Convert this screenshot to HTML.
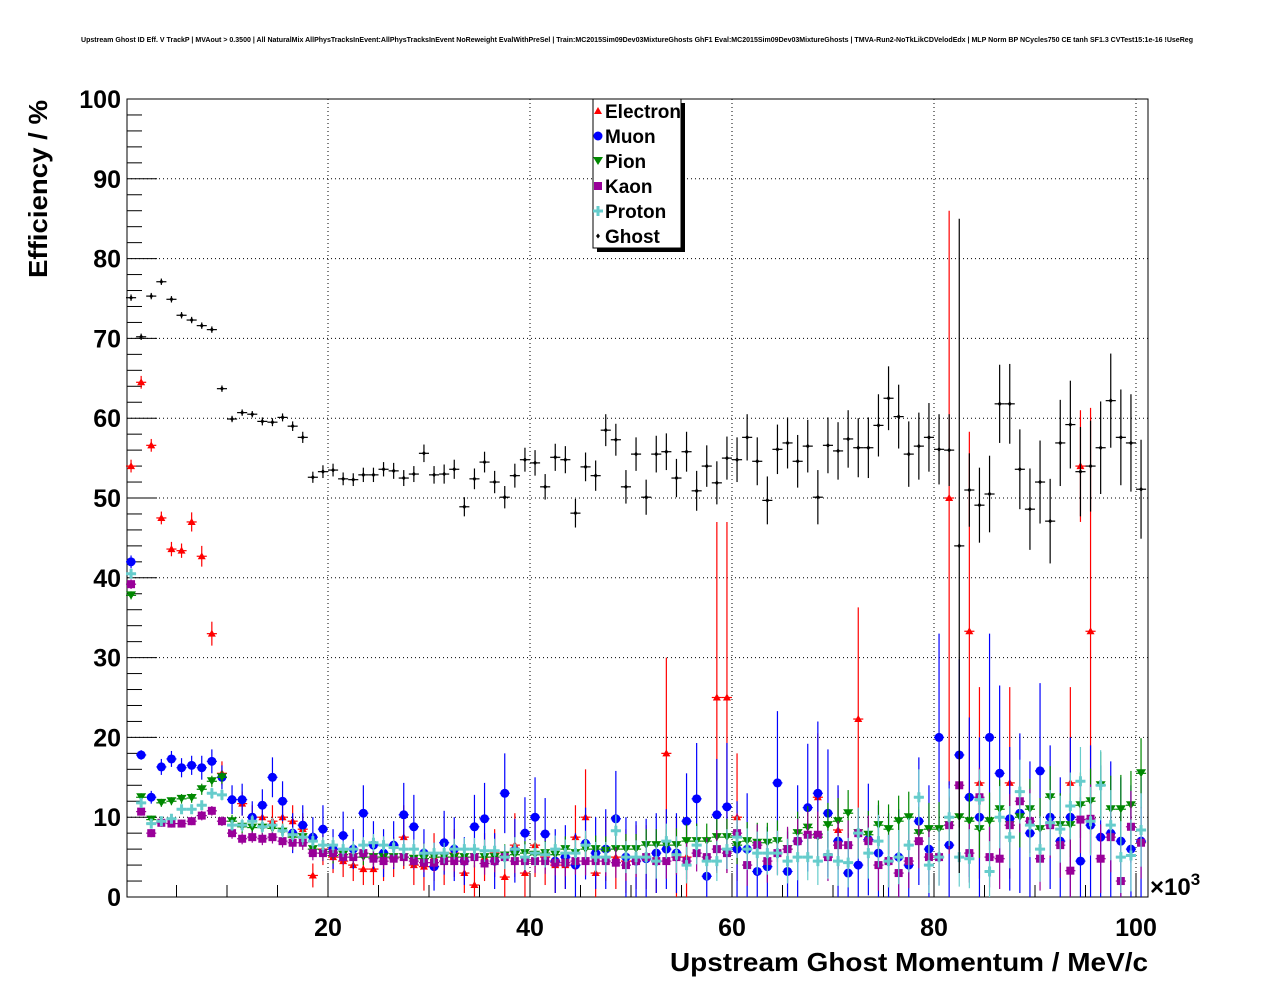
<!DOCTYPE html>
<html><head><meta charset="utf-8">
<style>
body{margin:0;background:#fff;}
svg{display:block;font-family:"Liberation Sans",sans-serif;}
</style></head>
<body>
<svg id="chart" width="1276" height="996" viewBox="0 0 1276 996" xmlns="http://www.w3.org/2000/svg">
<text x="637" y="42" font-size="7.1" font-weight="bold" text-anchor="middle" textLength="1112" lengthAdjust="spacingAndGlyphs">Upstream Ghost ID Eff. V TrackP | MVAout &gt; 0.3500 | All NaturalMix AllPhysTracksInEvent:AllPhysTracksInEvent NoReweight EvalWithPreSel | Train:MC2015Sim09Dev03MixtureGhosts GhF1 Eval:MC2015Sim09Dev03MixtureGhosts | TMVA-Run2-NoTkLikCDVelodEdx | MLP Norm BP NCycles750 CE tanh SF1.3 CVTest15:1e-16 !UseReg</text>
<g id="grid"></g>
<g id="axes"></g>
<g id="series"></g>
<text transform="translate(47,278) rotate(-90)" font-size="26" font-weight="bold" textLength="178" lengthAdjust="spacingAndGlyphs">Efficiency / %</text>
<text x="1148" y="971" font-size="26" font-weight="bold" text-anchor="end" textLength="478" lengthAdjust="spacingAndGlyphs">Upstream Ghost Momentum / MeV/c</text>
<text x="1150" y="895" font-size="24" font-weight="bold">×10<tspan font-size="17" dy="-10">3</tspan></text>
<g id="legend">
<rect x="597" y="103" width="88" height="149" fill="#000"/>
<rect x="593" y="99" width="88" height="149" fill="#fff" stroke="#000" stroke-width="1"/>
</g>
</svg>
<script>
const categories = Array.from({length:101},(_,i)=>i+0.5);
const ghostVals = [75.1,70.2,75.3,77.1,74.9,72.9,72.3,71.6,71.1,63.7,59.9,60.7,60.5,59.6,59.5,60.1,59.0,57.6,52.6,53.3,53.5,52.4,52.3,52.9,52.9,53.6,53.4,52.5,53.0,55.6,52.9,53.0,53.6,48.9,52.4,54.5,52.0,50.1,52.8,54.8,54.4,51.4,55.1,54.8,48.1,53.9,52.8,58.5,57.3,51.4,55.5,50.1,55.5,55.8,52.5,55.8,50.9,54.0,51.9,55.0,54.8,57.6,54.6,49.7,56.1,56.9,54.6,56.5,50.1,56.6,55.9,57.4,56.3,56.3,59.1,62.5,60.2,55.5,56.5,57.6,56.1,56.0,44.0,51.0,49.1,50.5,61.8,61.8,53.6,48.6,52.0,47.1,56.9,59.2,53.3,54.0,56.3,62.2,57.6,56.9,51.1];
const ghostErr = [0.4,0.4,0.4,0.4,0.4,0.4,0.4,0.4,0.4,0.4,0.4,0.4,0.4,0.5,0.5,0.5,0.6,0.7,0.7,0.8,0.8,0.8,0.8,0.9,0.9,0.9,1,1,1,1.1,1.1,1.2,1.2,1.2,1.3,1.3,1.4,1.4,1.5,1.5,1.6,1.6,1.7,1.7,1.8,1.8,1.9,2,2,2.1,2.1,2.2,2.3,2.3,2.4,2.5,2.5,2.6,2.7,2.7,2.8,2.9,3,3,3.1,3.2,3.3,3.3,3.4,3.5,3.6,3.6,3.7,3.8,3.9,4,4,4.1,4.2,4.3,4.4,4.5,41,4.6,4.7,4.8,4.9,5,5,5.1,5.2,5.3,5.4,5.5,5.6,5.7,5.8,5.9,6,6.1,6.2];
const electronVals = [54,64.5,56.6,47.5,43.6,43.4,47,42.7,33,15.5,null,11.7,10,10,9.5,10,9.5,8.5,2.7,6,5,4.5,4,3.5,3.5,4.5,5,7.5,4,3.8,5,4.5,5.5,3,1.5,5,5.5,2.5,6.5,3,6.5,5,4,4,7.5,10,3,6,5,4.5,5,5,4.5,18,5,5,null,null,25,25,10,null,null,null,null,null,null,null,12.5,null,8.4,null,22.3,null,null,null,null,null,null,null,null,50,null,33.3,14.3,null,null,14.3,null,null,null,null,null,14.3,54,33.3,null,null,null,null,null];
const electronErr = [0.8,0.8,0.8,0.8,0.9,0.9,1.2,1.3,1.5,1.5,0,1.5,1.5,2,2,2,2,2,1.5,2,2,2,2,2,2,2.5,2.5,4,2.5,3,3,3,3,2.5,2.5,3,3,3,4,3,4,3.5,3.5,3,4,6,3.5,4,4,4,4,4,4,12,5,5,0,0,22,22,8,0,0,0,0,0,0,0,8,0,5,0,14,0,0,0,0,0,0,0,0,36,0,25,12,0,0,12,0,0,0,0,0,12,7,28,0,0,0,0,0];
const muonVals = [42,17.8,12.5,16.3,17.3,16.2,16.5,16.2,17,15,12.2,12.2,10,11.5,15,12,8,9,7.5,8.5,6,7.7,6,10.5,6.5,5.5,6.5,10.3,8.8,5.5,3.8,6.8,6,4.5,8.8,9.8,4.5,13,5.8,8,10,7.9,4.5,5,4,6.7,5.5,6,9.8,5,4.5,4.8,5.5,6,5.5,9.5,12.3,2.6,10.3,11.3,6,6,3.2,3.8,14.3,3.2,7,11.2,13,10.5,7,3,4,7.2,5.5,4.5,5,4,9.5,6,20,6.5,17.8,12.5,10,20,15.5,9.8,10.5,8,15.8,10,7,10,4.5,9,7.5,8,7,6,7];
const muonErr = [0.8,0.6,0.8,1,1,1.2,1.2,1.5,1.5,1.5,1.8,2,2,2,2.5,2.5,2.5,2.5,2.5,3,2.5,3,2.5,3.5,3,3,3,4,4,3,3,4,4,3,4,4.5,3.5,5,4,4.5,5,4.5,4,4,4,4.5,4.5,5,6,5,5,5,5,5,5,6,7,5,7,8,6,7,5,5,9,5,7,8,9,8,7,5,6,7,6,6,6,6,8,8,13,8,12,10,10,13,11,9,10,9,11,9,8,10,8,10,9,9,8,8,8];
const pionVals = [37.8,12.5,9.7,11.8,12,12.3,12.4,13.5,14.5,15,9.5,8.8,8.7,8.7,8.6,8.2,7.5,7.5,6,5.5,5.2,5.3,5,5,5,5,5,5,4.8,4.8,5,5,5,5,5,5,5,5.2,5.3,5.5,5.3,5.5,5.3,6,5.5,6,6,5.8,6,6,6,6.5,6.5,6.5,6.5,7,7,7,7.5,7.5,6.5,7,6.8,6.8,7,6,8,8.7,7.5,9,9.5,10.5,8,7.8,9,8.5,9.5,10,8,8.5,8.5,9,10,9.5,8.5,9.5,11,9,10,11,8.5,12.5,9,9,11.5,12,14,11,11,11.5,15.5];
const pionErr = [0.5,0.5,0.5,0.5,0.5,0.6,0.6,0.7,0.7,0.8,0.8,0.8,0.9,0.9,1,1,1,1,1,1,1,1,1,1,1,1,1.1,1.1,1.1,1.2,1.2,1.2,1.2,1.3,1.3,1.3,1.4,1.4,1.4,1.5,1.5,1.5,1.6,1.6,1.6,1.7,1.7,1.8,1.8,1.9,1.9,2,2,2,2.1,2.1,2.2,2.2,2.3,2.3,2.4,2.4,2.5,2.5,2.6,2.6,2.7,2.7,2.8,2.8,2.9,2.9,3,3,3.1,3.1,3.2,3.2,3.3,3.3,3.4,3.4,3.5,3.5,3.6,3.6,3.7,3.7,3.8,3.8,3.9,3.9,4,4,4.1,4.1,4.2,4.2,4.3,4.3,4.4];
const kaonVals = [39.2,10.7,8,9.3,9.2,9.2,9.5,10.2,10.8,9.5,8,7.3,7.5,7.3,7.5,7,6.8,6.8,5.5,5.5,5.5,5,5,5.5,4.8,4.5,4.8,5,4.5,4.3,4.3,4.5,4.5,4.5,5,4.2,4.5,5,4.5,4.5,4.5,4.5,4.3,4.3,4.5,4.5,4.5,4.5,4.3,4,4.5,5,4.5,4.5,5,4.5,5.5,5,6,5.5,8,4,6.5,4.5,5.5,6,7,7.8,7.8,5,6.5,6.5,8,7,4,4.5,3,4.5,7,5,5,9,14,5.5,12.5,5,4.8,9,12,9.5,4.8,9,6.5,3.3,9.7,9.8,4.8,7.5,2,8.8,6.8];
const kaonErr = [0.6,0.5,0.5,0.5,0.5,0.5,0.5,0.6,0.6,0.6,0.7,0.7,0.7,0.8,0.8,0.8,0.9,0.9,0.9,1,1,1,1,1,1,1,1.1,1.1,1.1,1.2,1.2,1.2,1.3,1.3,1.3,1.4,1.4,1.4,1.5,1.5,1.5,1.6,1.6,1.7,1.7,1.8,1.8,1.9,1.9,2,2,2.1,2.1,2.2,2.2,2.3,2.3,2.4,2.4,2.5,2.5,2.6,2.6,2.7,2.7,2.8,2.8,2.9,2.9,3,3,3.1,3.1,3.2,3.2,3.3,3.3,3.4,3.4,3.5,3.5,3.6,3.6,3.7,3.7,3.8,3.8,3.9,3.9,4,4,4.1,4.1,4.2,4.2,4.3,4.3,4.4,4.4,4.5,4.5];
const protonVals = [40.5,11.8,9.2,9.5,9.8,11,11,11.5,13,12.8,9,9,9.5,8.8,9,8.3,7.8,7.5,7,6.5,6.5,6,6,6.5,6.8,6.5,6.2,6,6,5.5,5.5,5.5,6,6,6,5.8,5.8,5,6,5,5.5,5.3,6,5.5,5.5,6.5,5,5,8.3,5,5,5,4.5,7,5.3,4,6.5,4.5,4.5,6,7.5,6,5.5,5.5,5.5,4.5,5,5,4.5,5.3,4.5,4.3,8,5.5,7,4.5,5,6.5,12.5,4,5,10,5,4.8,12.2,3.2,10,7.5,13.2,9,6,9.3,8.5,11.4,14.5,9.5,14,9,5,5.2,8.4];
const protonErr = [0.6,0.5,0.5,0.5,0.5,0.6,0.6,0.6,0.7,0.7,0.7,0.8,0.8,0.8,0.9,0.9,0.9,1,1,1,1,1,1,1,1.1,1.1,1.1,1.2,1.2,1.2,1.3,1.3,1.3,1.4,1.4,1.4,1.5,1.5,1.5,1.6,1.6,1.6,1.7,1.7,1.8,1.8,1.9,1.9,2,2,2.1,2.1,2.2,2.2,2.3,2.3,2.4,2.4,2.5,2.5,2.6,2.6,2.7,2.7,2.8,2.8,2.9,2.9,3,3,3.1,3.1,3.2,3.2,3.3,3.3,3.4,3.4,3.5,3.5,3.6,3.6,3.7,3.7,3.8,3.8,3.9,3.9,4,4,4.1,4.1,4.2,4.2,4.3,4.3,4.4,4.4,4.5,4.5,4.6];
const yTicks = [0,10,20,30,40,50,60,70,80,90,100];
const xTicks = [20,40,60,80,100];
const legendLabels = ["Electron","Muon","Pion","Kaon","Proton","Ghost"];

const NS="http://www.w3.org/2000/svg";
const X0=126, XS=10.1, Y0=897, YS=7.98, FL=127, FR=1148, FT=99, FB=897;
const xp=v=>X0+v*XS, yp=v=>Y0-v*YS;
function mk(tag,attrs,parent){const e=document.createElementNS(NS,tag);for(const k in attrs)e.setAttribute(k,attrs[k]);parent.appendChild(e);return e;}
const grid=document.getElementById('grid'), axes=document.getElementById('axes'), ser=document.getElementById('series'), leg=document.getElementById('legend');

yTicks.forEach(t=>{
  if(t>0&&t<100){const l=mk('line',{x1:FL,x2:FR,y1:yp(t),y2:yp(t),stroke:'#000','stroke-width':1,'stroke-dasharray':'1,3'},grid);
  
  }
  const tx=mk('text',{x:121,y:yp(t)+9,'font-size':25,'font-weight':'bold','text-anchor':'end'},axes);
  tx.textContent=t;
  
  
});
xTicks.forEach(t=>{
  const l=mk('line',{x1:xp(t),x2:xp(t),y1:FT,y2:FB,stroke:'#000','stroke-width':1,'stroke-dasharray':'1,3'},grid);
  
  
  const tx=mk('text',{x:xp(t),y:936,'font-size':25,'font-weight':'bold','text-anchor':'middle'},axes);
  tx.textContent=t;
  
  
});
const fr=mk('rect',{x:FL,y:FT,width:FR-FL,height:FB-FT,fill:'none',stroke:'#000','stroke-width':1},axes);


for(let v=0;v<=100;v+=2){const len=v%10===0?30:15;mk('line',{x1:FL,x2:FL+len,y1:yp(v),y2:yp(v),stroke:'#000','stroke-width':1},axes);}
for(let v=5;v<=100;v+=5){const len=v%20===0?24:12;mk('line',{x1:xp(v),x2:xp(v),y1:FB,y2:FB-len,stroke:'#000','stroke-width':1},axes);}

function marker(type,x,y,col,g){
  if(type==='tri')return mk('polygon',{points:`${x},${y-4} ${x-4},${y+3} ${x+4},${y+3}`,fill:col},g);
  if(type==='circ')return mk('circle',{cx:x,cy:y,r:4.5,fill:col},g);
  if(type==='tdn')return mk('polygon',{points:`${x-5},${y-4} ${x+5},${y-4} ${x},${y+4}`,fill:col},g);
  if(type==='sq')return mk('rect',{x:x-4,y:y-4,width:8,height:8,fill:col},g);
  if(type==='cross')return mk('path',{d:`M${x-5},${y-1.5}h10v3h-10zM${x-1.5},${y-5}h3v10h-3z`,fill:col},g);
  return mk('polygon',{points:`${x},${y-2.5} ${x+2},${y} ${x},${y+2.5} ${x-2},${y}`,fill:col},g);
}
const seriesDefs=[
 ['electron',electronVals,electronErr,'#ff0000','tri'],
 ['muon',muonVals,muonErr,'#0000ff','circ'],
 ['pion',pionVals,pionErr,'#008800','tdn'],
 ['kaon',kaonVals,kaonErr,'#990099','sq'],
 ['proton',protonVals,protonErr,'#66cccc','cross'],
 ['ghost',ghostVals,ghostErr,'#000000','dia']];
seriesDefs.forEach(([name,vals,errs,col,type])=>{
  const g=mk('g',{},ser);
  
  
  categories.forEach((c,i)=>{
    const v=vals[i]; if(v===null||v===undefined)return;
    const e=errs[i]||0, x=xp(c), y=yp(v);
    mk('line',{x1:xp(c-0.5),x2:xp(c+0.5),y1:y,y2:y,stroke:col,'stroke-width':1.2},g);
    mk('line',{x1:x,x2:x,y1:yp(Math.min(100,v+e)),y2:yp(Math.max(0,v-e)),stroke:col,'stroke-width':1.2},g);
    const m=marker(type,x,y,col,g);
    
    
  });
});
legendLabels.forEach((lab,i)=>{
  const y=111+i*25, def=seriesDefs[i];
  const m=marker(def[4],598,y,def[3],leg);
  
  
  const t=mk('text',{x:605,y:y+7,'font-size':19,'font-weight':'bold'},leg);
  t.textContent=lab;
  
  
});
</script>
</body></html>
